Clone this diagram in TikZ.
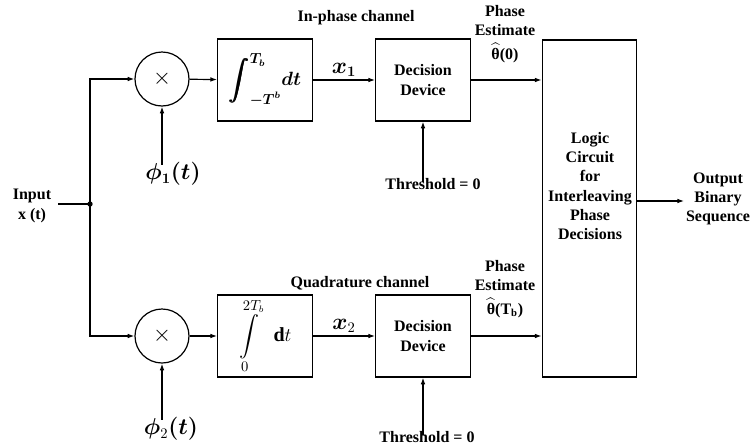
\documentclass[tikz,border=0pt]{standalone}
\usepackage{amsmath, amssymb, bm}
\usepackage{fontspec}
\setmainfont{Liberation Serif}
\usetikzlibrary{arrows.meta, positioning, calc}

\begin{document}
\begin{tikzpicture}[x=0.75pt, y=-0.75pt, line width=0.9pt,
    sig/.style={-{Latex[length=5pt,width=3.5pt]}},
    blk/.style={draw, minimum width=71pt, minimum height=61.5pt, align=center, inner sep=1pt,
        font=\fontsize{12}{14.5}\selectfont\bfseries},
    mixer/.style={draw, circle, minimum size=40.5pt, inner sep=0pt, font=\fontsize{16}{16}\selectfont},
    lbl/.style={align=center, inner sep=1pt, font=\fontsize{12}{14.5}\selectfont\bfseries},
    mlbl/.style={inner sep=1pt, font=\fontsize{16}{18}\selectfont}]
    \useasboundingbox (0,0) rectangle (754,447);
    % input and split point
    \node[lbl] (in) at (32,206) {Input\\x (t)};
    \coordinate (split) at (90,204);
    \fill (split) circle (2pt);
    % in-phase branch
    \node[lbl] (ilbl) at (356,18) {In-phase channel};
    \node[mixer] (mix1) at (162,79) {$\times$};
    \node[blk] (int1) at (265,80) {\fontsize{15}{18}\selectfont$\displaystyle\boldsymbol{\int_{-T^b}^{T_b}\! dt}$};
    \node[blk] (dec1) at (423,80) {Decision\\Device};
    \node[mlbl] (phi1) at (173,174) {$\boldsymbol{\phi_1(t)}$};
    \node[lbl] (thr1) at (433,184) {Threshold = 0};
    \node[lbl] (ph1) at (505,34) {Phase\\Estimate\\[3pt]$\widehat{\text{θ}}$(0)};
    % quadrature branch
    \node[lbl] (qlbl) at (360,283) {Quadrature channel};
    \node[mixer] (mix2) at (162,336) {$\times$};
    \node[blk] (int2) at (265,336) {\fontsize{15}{18}\selectfont$\displaystyle\int\limits_{0}^{2T_b}\;\; \mathbf{d}t$};
    \node[blk] (dec2) at (423,336) {Decision\\Device};
    \node[mlbl] (phi2) at (171,429) {$\boldsymbol{\phi}_2\boldsymbol{(t)}$};
    \node[lbl] (thr2) at (427,437) {Threshold = 0};
    \node[lbl] (ph2) at (505,289) {Phase\\Estimate\\[3pt]$\widehat{\text{θ}}$(T$_{\text{b}}$)};
    % logic circuit and output
    \node[draw, minimum width=71pt, minimum height=252.75pt] (logic) at (589.5,208.5) {};
    \node[lbl] (ltxt) at (590,186) {Logic\\Circuit\\for\\Interleaving\\Phase\\Decisions};
    \node[lbl] (out) at (718,199) {Output\\Binary\\Sequence};
    % connectors
    \draw ([xshift=4pt]in.east |- split) -- (split);
    \draw[sig] (split) |- (mix1);
    \draw[sig] (split) |- (mix2);
    \draw[sig] (mix1) -- (int1);
    \draw[sig] (mix2) -- (int2);
    \draw[sig] (int1) -- node[mlbl, above=1pt] {$\boldsymbol{x_1}$} (dec1);
    \draw[sig] (int2) -- node[mlbl, above=1pt] {$\boldsymbol{x}_2$} (dec2);
    \draw[sig] (dec1) -- (dec1 -| logic.west);
    \draw[sig] (dec2) -- (dec2 -| logic.west);
    \draw[sig] ([yshift=-3pt]mix1 |- phi1.north) -- (mix1);
    \draw[sig] ([yshift=-3pt]mix2 |- phi2.north) -- (mix2);
    \draw[sig] ([yshift=-4pt]dec1.south |- thr1.north) -- (dec1.south);
    \draw[sig] ([yshift=-4pt]dec2.south |- thr2.north) -- (dec2.south);
    \draw[sig] (logic.east |- 0,201) -- (out.west |- 0,201);
\end{tikzpicture}
\end{document}
